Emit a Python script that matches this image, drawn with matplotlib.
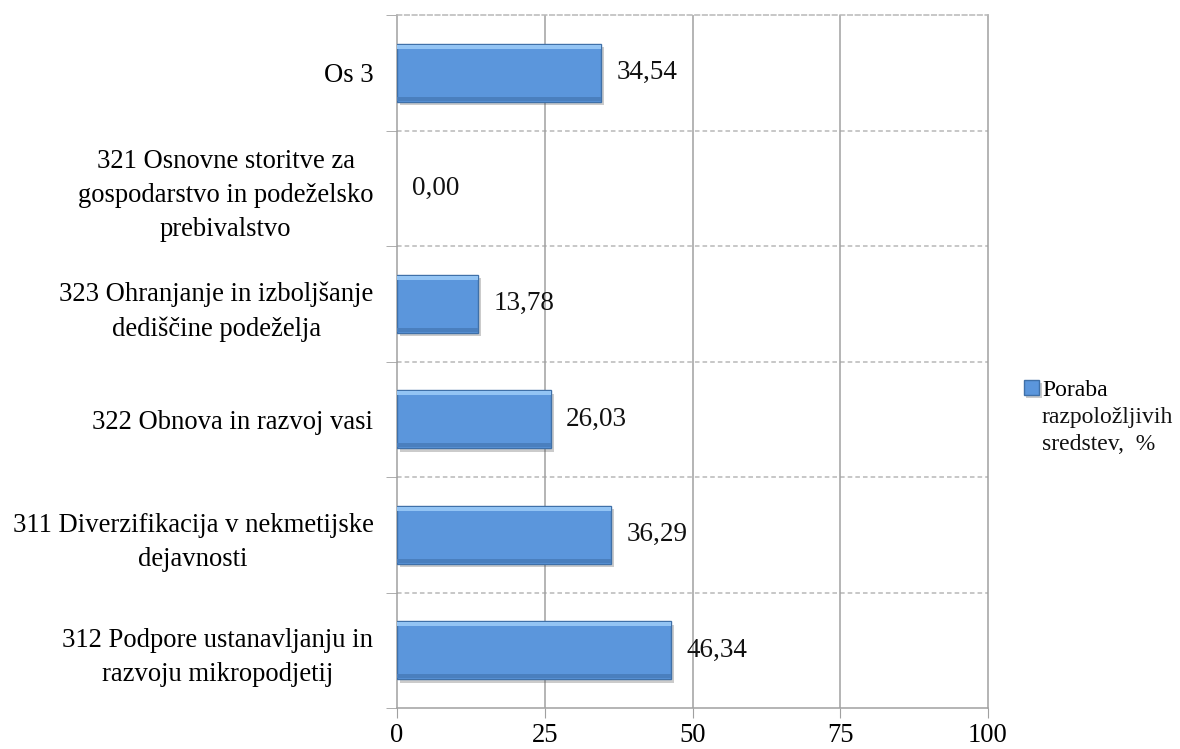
import matplotlib
matplotlib.use("Agg")
import matplotlib.pyplot as plt
import matplotlib.patheffects as pe
import numpy as np

categories = [
    "Os 3",
    "321 Osnovne storitve za\ngospodarstvo in podeželsko\nprebivalstvo",
    "323 Ohranjanje in izboljšanje\ndediščine podeželja",
    "322 Obnova in razvoj vasi",
    "311 Diverzifikacija v nekmetijske\ndejavnosti",
    "312 Podpore ustanavljanju in\nrazvoju mikropodjetij",
]
values = [34.54, 0.00, 13.78, 26.03, 36.29, 46.34]
value_labels = ["34,54", "0,00", "13,78", "26,03", "36,29", "46,34"]
xticks = [0, 25, 50, 75, 100]
legend_lines = ["Poraba", "razpoložljivih", "sredstev,  %"]

plt.rcParams['font.family'] = ['Liberation Serif', 'DejaVu Serif']

W, H = 1180, 749
fig = plt.figure(figsize=(W/100, H/100), dpi=100)
ax = fig.add_axes([397/W, 1-708/H, (988-397)/W, (708-15)/H])

n = len(categories)
y = np.arange(n)[::-1]
grid_c = '#a0a0a0'
dash_c = '#b8b8b8'

lw = [0 if v == 0 else 1.0 for v in values]
bars = ax.barh(y, values, height=0.5, color='#5b96dc', edgecolor='#3f70a8', linewidth=lw,
               zorder=3,
               path_effects=[pe.SimplePatchShadow(offset=(2, -2.5), alpha=0.3, shadow_rgbFace='#555555'),
                             pe.Normal()])
# bevel: light top strip, darker bottom strip
ax.barh(y + 0.225, values, height=0.035, color='#93c4f4', edgecolor='none', zorder=4)
ax.barh(y - 0.225, values, height=0.035, color='#4a7fbe', edgecolor='none', zorder=4)

for yi, v, lab in zip(y, values, value_labels):
    ax.annotate(lab, xy=(v, yi), xytext=(11, 0), textcoords='offset points',
                va='center', ha='left', fontsize=19.5, color='#111111', zorder=5)

ax.set_xlim(0, 100)
ax.set_ylim(-0.5, n - 0.5)
ax.set_xticks(xticks)
ax.set_xticklabels([str(t) for t in xticks], fontsize=19.2)
ax.set_yticks(y)
ax.set_yticklabels(categories, fontsize=19.2, linespacing=1.48)
for t in ax.get_yticklabels():
    t.set_multialignment('center')
ax.tick_params(axis='y', length=0, pad=17)
ax.tick_params(axis='x', length=7, color=grid_c, pad=3.5, direction='out')

# category separators (dashed) and minor ticks
bounds = np.arange(n + 1) - 0.5
ax.set_yticks(bounds, minor=True)
ax.tick_params(axis='y', which='minor', length=8, color=grid_c, direction='out')
for b in bounds[1:-1]:
    ax.axhline(b, color=dash_c, linestyle=(0, (3, 2)), linewidth=1.1, zorder=1)

for t in xticks[1:-1]:
    ax.axvline(t, color=grid_c, linewidth=1.1, zorder=1)

for s in ['left', 'bottom', 'right']:
    ax.spines[s].set_color(grid_c)
    ax.spines[s].set_linewidth(1.1)
ax.spines['top'].set_color(dash_c)
ax.spines['top'].set_linestyle((0, (3, 2)))
ax.spines['top'].set_linewidth(1.1)

# legend: handle + first line, remaining lines aligned below
leg_fs = 17
leg = fig.legend(handles=[bars], labels=[legend_lines[0]], loc='upper left',
                 bbox_to_anchor=(1023/W, 1-378/H), frameon=False, fontsize=leg_fs,
                 handlelength=0.66, handleheight=0.62, handletextpad=0.12,
                 borderaxespad=0, borderpad=0)
fig.canvas.draw()
r = fig.canvas.get_renderer()
tb = leg.get_texts()[0].get_window_extent(r)
# target: text left at 1042 px, text centre at 390 px from top
dx = 1042 - tb.x0
dy = (H - 390) - (tb.y0 + tb.y1) / 2
leg.set_bbox_to_anchor(((1023 + dx)/W, 1-378/H + dy/H), transform=fig.transFigure)
fig.canvas.draw()
tb = leg.get_texts()[0].get_window_extent(r)
cy = (tb.y0 + tb.y1) / 2
for i, line in enumerate(legend_lines[1:], start=1):
    fig.text(tb.x0/W, (cy - 27*i)/H, line, fontsize=leg_fs, ha='left', va='center',
             color='#111111')

fig.savefig("out.png", dpi=100)
